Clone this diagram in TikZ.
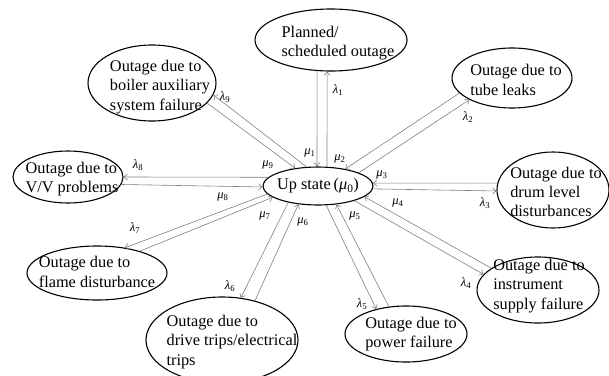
\documentclass[tikz,border=0pt]{standalone}
\usepackage{fontspec}
\setmainfont{Liberation Serif}
\usetikzlibrary{shapes.geometric,arrows.meta}
\begin{document}
\begin{tikzpicture}[x=1pt,y=-1pt,
  st/.style={draw=black, line width=1.1pt, ellipse, inner sep=0pt},
  txt/.style={inner sep=0pt, align=left, font=\fontsize{16.3}{19.3}\selectfont},
  ln/.style={draw=black!50, line width=0.6pt},
  arr/.style={ln, -{Straight Barb[length=3.5pt,width=6pt]}},
  lb/.style={font=\fontsize{12.5}{12.5}\selectfont, inner sep=0pt}]
\useasboundingbox (0,0) rectangle (609,375);
\clip (0,0) rectangle (609,375);
% states
\node[st, minimum width=110, minimum height=38,
  label={[txt]center:Up state\,(\textit{μ}\textsubscript{0})}] (up) at (318,186) {};
\node[st, minimum width=152, minimum height=62,
  label={[txt, xshift=7, yshift=-3]center:Planned/\\scheduled outage}] (plan) at (331,40) {};
\node[st, minimum width=128, minimum height=76,
  label={[txt, xshift=8, yshift=-4]center:Outage due to\\boiler auxiliary\\system failure}] (boil) at (152,83) {};
\node[st, minimum width=120, minimum height=60,
  label={[txt, xshift=4, yshift=-2]center:Outage due to\\tube leaks}] (tube) at (512,78) {};
\node[st, minimum width=110, minimum height=52,
  label={[txt, xshift=4, yshift=-2]center:Outage due to\\V/V problems}] (vv) at (68,177) {};
\node[st, minimum width=112, minimum height=76,
  label={[txt, xshift=3, yshift=-2]center:Outage due to\\drum level\\disturbances}] (drum) at (553,190) {};
\node[st, minimum width=122, minimum height=66,
  label={[txt, xshift=1, yshift=4]center:Outage due to\\instrument\\supply failure}] (instr) at (538,290) {};
\node[st, minimum width=122, minimum height=56,
  label={[txt, xshift=5, yshift=0]center:Outage due to\\power failure}] (power) at (406,334) {};
\node[st, minimum width=152, minimum height=86,
  label={[txt, xshift=10, yshift=-2]center:Outage due to\\drive trips/electrical\\trips}] (drive) at (222,340) {};
\node[st, minimum width=140, minimum height=54,
  label={[txt, xshift=0, yshift=1]center:Outage due to\\flame disturbance}] (flame) at (97,273) {};
% transitions (lambda: up -> state, mu: state -> up)
\draw[arr] (plan.246) -- (up.93);
\draw[arr] (up.65) -- (plan.263);
\draw[arr] (tube.196) -- (up.32);
\draw[arr] (up.18) -- (tube.207);
\draw[arr] (drum.173) -- (up.3);
\draw[arr] (up.357) -- (drum.181);
\draw[arr] (instr.155) -- (up.347);
\draw[arr] (up.338) -- (instr.164);
\draw[arr] (power.122) -- (up.315);
\draw[arr] (up.293) -- (power.140);
\draw[arr] (drive.50) -- (up.223);
\draw[arr] (up.209) -- (drive.66);
\draw[arr] (flame.27) -- (up.194);
\draw[arr] (up.189) -- (flame.42);
\draw[arr] (vv.352) -- (up.181);
\draw[arr] (up.170) -- (vv.0);
\draw[arr] (boil.340) -- (up.142);
\draw[arr] (up.121) -- (boil.349);
% rate labels
\node[lb] (m1) at (310,153) {\textit{μ}\textsubscript{1}};
\node[lb] (m2) at (340,159) {\textit{μ}\textsubscript{2}};
\node[lb] (m3) at (382,175) {\textit{μ}\textsubscript{3}};
\node[lb] (m4) at (398,203) {\textit{μ}\textsubscript{4}};
\node[lb] (m5) at (355,216) {\textit{μ}\textsubscript{5}};
\node[lb] (m6) at (303,222) {\textit{μ}\textsubscript{6}};
\node[lb] (m7) at (265,216) {\textit{μ}\textsubscript{7}};
\node[lb] (m8) at (223,197) {\textit{μ}\textsubscript{8}};
\node[lb] (m9) at (268,165) {\textit{μ}\textsubscript{9}};
\node[lb] (l1) at (338,90) {\textit{λ}\textsubscript{1}};
\node[lb] (l2) at (468,117) {\textit{λ}\textsubscript{2}};
\node[lb] (l3) at (485,203) {\textit{λ}\textsubscript{3}};
\node[lb] (l4) at (466,283) {\textit{λ}\textsubscript{4}};
\node[lb] (l5) at (362,304) {\textit{λ}\textsubscript{5}};
\node[lb] (l6) at (230,286) {\textit{λ}\textsubscript{6}};
\node[lb] (l7) at (135,228) {\textit{λ}\textsubscript{7}};
\node[lb] (l8) at (138,165) {\textit{λ}\textsubscript{8}};
\node[lb] (l9) at (225,97) {\textit{λ}\textsubscript{9}};
\end{tikzpicture}
\end{document}
